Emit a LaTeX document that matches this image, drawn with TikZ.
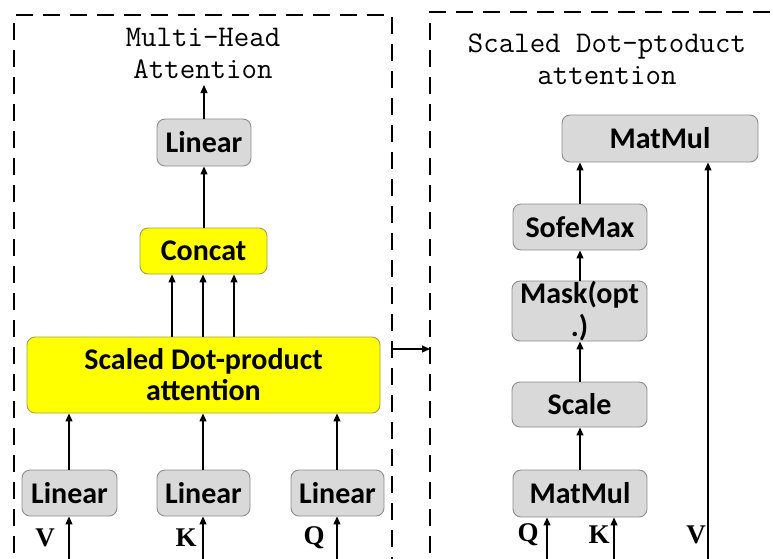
\documentclass[tikz,border=0pt]{standalone}
\usepackage{fontspec}
\usetikzlibrary{arrows.meta}
\newfontfamily\boxfont{Carlito}
\newfontfamily\labfont{Liberation Serif}
\definecolor{boxgray}{HTML}{D9D9D9}
\definecolor{edgegray}{HTML}{8C8C8C}
\definecolor{boxyellow}{HTML}{FFFF00}
\definecolor{edgeyellow}{HTML}{A0A050}
\tikzset{
  blk/.style={draw=edgegray, fill=boxgray, line width=0.9pt, rounded corners=8pt,
    inner sep=0pt, align=center, font=\boxfont\bfseries\fontsize{30}{31}\selectfont},
  ylw/.style={blk, draw=edgeyellow, fill=boxyellow},
  flow/.style={line width=1.2pt, -{Triangle[length=8pt,width=7pt]}},
  frame/.style={line width=1.3pt, dash pattern=on 17pt off 10pt},
  ttl/.style={align=center, font=\ttfamily\fontsize{30}{32}\selectfont},
  lab/.style={font=\labfont\bfseries\fontsize{27}{27}\selectfont},
}
\begin{document}
\begin{tikzpicture}[x=1pt,y=-1pt]
\useasboundingbox (0,0) rectangle (773,558);
\clip (0,0) rectangle (773,558);

% dashed frames of the two panels
\draw[frame] (14,580) -- (14,15) -- (392,15) -- (392,580);
\draw[frame] (430,580) -- (430,12) -- (800,12);

% ---------------- multi-head attention ----------------
\node[ttl] (mhtitle) at (203,53) {Multi-Head\\Attention};
\node[blk, minimum width=94pt, minimum height=47pt] (linout) at (204,142.5) {Linear};
\node[ylw, minimum width=127pt, minimum height=46pt] (concat) at (203.5,251) {Concat};
\node[ylw, minimum width=353pt, minimum height=76pt] (sdpa) at (203.5,375) {Scaled Dot-product\\attention};
\node[blk, minimum width=95pt, minimum height=46pt] (linv) at (69.5,493) {Linear};
\node[blk, minimum width=93pt, minimum height=46pt] (link) at (203.5,493) {Linear};
\node[blk, minimum width=93pt, minimum height=46pt] (linq) at (337.5,493) {Linear};

\node[lab] (lv) at (45,538) {V};
\node[lab] (lk) at (186,538) {K};
\node[lab] (lq) at (314,538) {Q};

\coordinate (inv) at (69,560);
\coordinate (ink) at (203,560);
\coordinate (inq) at (337,560);
\coordinate (mhout) at (204,85);

\draw[flow] (inv) -- (inv |- linv.south);
\draw[flow] (ink) -- (ink |- link.south);
\draw[flow] (inq) -- (inq |- linq.south);
\draw[flow] (linv.north -| inv) -- (inv |- sdpa.south);
\draw[flow] (link.north -| ink) -- (ink |- sdpa.south);
\draw[flow] (linq.north -| inq) -- (inq |- sdpa.south);
\foreach \x in {172,203,234}
  \draw[flow] (sdpa.north -| \x,0) -- (concat.south -| \x,0);
\draw[flow] (concat.north -| linout) -- (linout.south);
\draw[flow] (linout.north) -- (mhout);

% link between the panels
\coordinate (lpanel) at (392,349);
\coordinate (rpanel) at (430,349);
\draw[flow] (lpanel) -- (rpanel);

% ---------------- scaled dot-product attention ----------------
\node[ttl] (sdtitle) at (607,59) {Scaled Dot-ptoduct\\attention};
\node[blk, minimum width=196pt, minimum height=47pt] (mmtop) at (660,138.5) {MatMul};
\node[blk, minimum width=134pt, minimum height=46pt] (soft) at (580,227) {SofeMax};
\node[blk, minimum width=135pt, minimum height=60pt, font=\boxfont\bfseries\fontsize{30}{33}\selectfont] (mask) at (579.5,311) {Mask(opt\\.)};
\node[blk, minimum width=135pt, minimum height=45pt] (scale) at (579.5,404.5) {Scale};
\node[blk, minimum width=134pt, minimum height=47pt] (mmbot) at (580,493.5) {MatMul};

\node[lab] (rq) at (528,535) {Q};
\node[lab] (rk) at (599,535) {K};
\node[lab] (rv) at (696,535) {V};

\coordinate (rinq) at (547,560);
\coordinate (rink) at (614,560);
\coordinate (rinv) at (708,560);
\coordinate (spine) at (580,0);

\draw[flow] (rinq) -- (rinq |- mmbot.south);
\draw[flow] (rink) -- (rink |- mmbot.south);
\draw[flow] (rinv) -- (rinv |- mmtop.south);
\draw[flow] (mmbot.north -| spine) -- (scale.south -| spine);
\draw[flow] (scale.north -| spine) -- (mask.south -| spine);
\draw[flow] (mask.north -| spine) -- (soft.south -| spine);
\draw[flow] (soft.north -| spine) -- (mmtop.south -| spine);
\end{tikzpicture}
\end{document}
